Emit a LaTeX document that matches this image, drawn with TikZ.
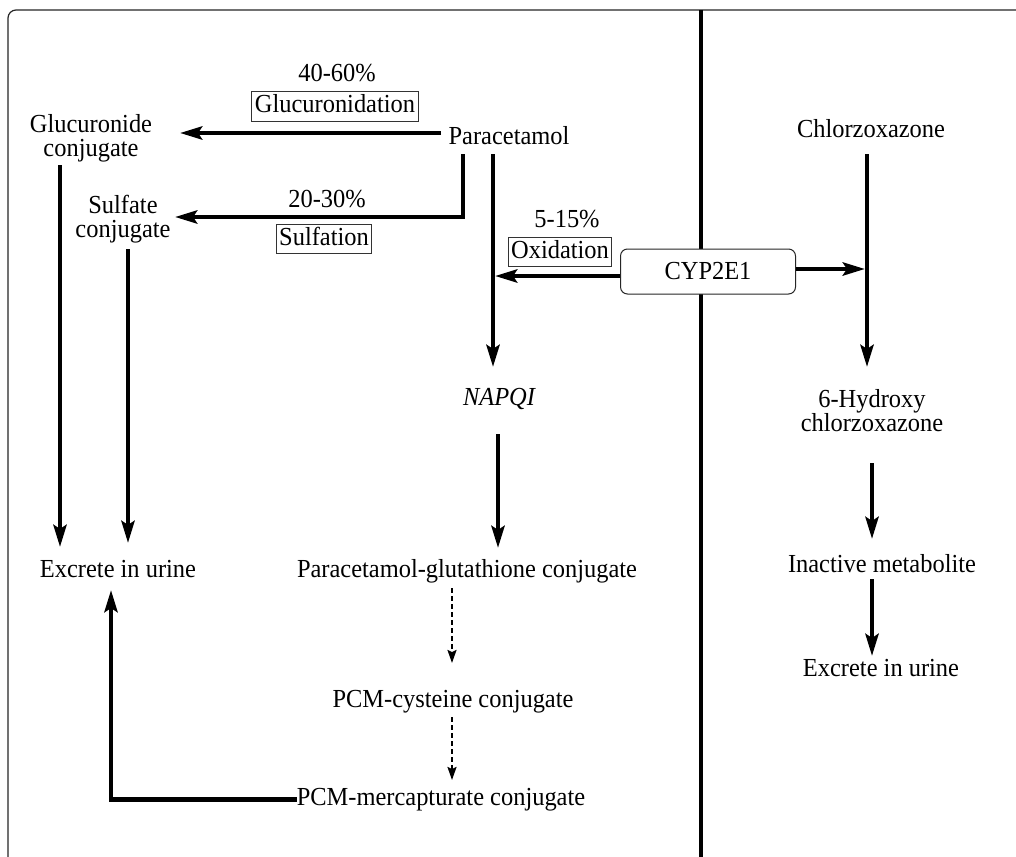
\documentclass[tikz,border=0pt]{standalone}
\usepackage{fontspec}
\setmainfont{Liberation Serif}[FakeStretch=0.94]
\usetikzlibrary{arrows.meta}
\begin{document}
\begin{tikzpicture}[x=1pt,y=-1pt,
  txt/.style={font=\fontsize{26}{24}\selectfont, inner sep=0pt, anchor=base},
  two/.style={font=\fontsize{26}{24}\selectfont, inner sep=0pt, align=center, anchor=center},
  pbox/.style={txt, draw=black!80, line width=1pt, inner xsep=3pt, inner ysep=3pt, text height=18pt, text depth=5pt},
  enzyme/.style={draw=black!85, line width=1pt, rounded corners=7pt, fill=white, minimum width=175pt, minimum height=45pt, inner sep=0pt, font=\fontsize{26}{24}\selectfont},
  arr/.style={line width=4.6pt, -{Stealth[length=22pt,width=13pt,inset=4pt]}},
  darr/.style={line width=2pt, dash pattern=on 5pt off 3pt, -{Stealth[length=13pt,width=9pt,inset=2pt]}},
  frame/.style={draw=black!85, line width=1.2pt},
  divider/.style={line width=4pt},
]
\useasboundingbox (0,0) rectangle (1016,856);
\clip (0,0) rectangle (1016,856);
\fill[white] (0,0) rectangle (1016,856);

% frame and divider
\draw[frame, rounded corners=8pt] (8,880) -- (8,10) -- (1040,10);
\draw[divider] (701,10) -- (701,880);

% text nodes
\node[txt] (para) at (509,144) {Paracetamol};
\node[two] (gluc) at (91,137.9) {Glucuronide\\conjugate};
\node[two] (sulf) at (123,218.9) {Sulfate\\conjugate};
\node[txt] (p1) at (337,82) {40-60\%};
\node[pbox] (b1) at (335,113) {Glucuronidation};
\node[txt] (p2) at (327,207) {20-30\%};
\node[pbox] (b2) at (324,245) {Sulfation};
\node[txt] (p3) at (567,227) {5-15\%};
\node[pbox] (b3) at (560,258) {Oxidation};
\node[enzyme] (cyp) at (708,271.5) {CYP2E1};
\node[txt] (chl) at (871,137) {Chlorzoxazone};
\node[two] (hyd) at (872,410.2) {6-Hydroxy\\chlorzoxazone};
\node[txt] (inact) at (882,572) {Inactive metabolite};
\node[txt] (exr) at (881,676) {Excrete in urine};
\node[txt, font=\fontsize{26}{24}\selectfont\itshape] (napqi) at (499,405) {NAPQI};
\node[txt] (exl) at (118,577) {Excrete in urine};
\node[txt] (pgc) at (467,577) {Paracetamol-glutathione conjugate};
\node[txt] (cys) at (453,707) {PCM-cysteine conjugate};
\node[txt] (merc) at (441,805) {PCM-mercapturate conjugate};

% connector end points
\coordinate (g0) at (441,133); \coordinate (g1) at (180,133);
\coordinate (s0) at (463,154); \coordinate (s1) at (463,217); \coordinate (s2) at (175,217);
\coordinate (o0) at (493,154); \coordinate (o1) at (493,367);
\coordinate (c0) at (495,276);
\coordinate (c1) at (865,269);
\coordinate (h0) at (867,154); \coordinate (h1) at (867,367);
\coordinate (i0) at (872,463); \coordinate (i1) at (872,539);
\coordinate (e0) at (872,579); \coordinate (e1) at (872,656);
\coordinate (u0) at (60,165); \coordinate (u1) at (60,547);
\coordinate (v0) at (128,249); \coordinate (v1) at (128,543);
\coordinate (n0) at (498,434); \coordinate (n1) at (498,548);
\coordinate (d0) at (452,588); \coordinate (d1) at (452,663);
\coordinate (d2) at (452,717); \coordinate (d3) at (452,780);
\coordinate (m2) at (111,590);

% connectors
\draw[arr] (g0) -- (g1);
\draw[arr] (s0) -- (s1) -- (s2);
\draw[arr] (o0) -- (o1);
\draw[arr] (cyp.west |- c0) -- (c0);
\draw[arr] (cyp.east |- c1) -- (c1);
\draw[arr] (h0) -- (h1);
\draw[arr] (i0) -- (i1);
\draw[arr] (e0) -- (e1);
\draw[arr] (u0) -- (u1);
\draw[arr] (v0) -- (v1);
\draw[arr] (n0) -- (n1);
\draw[darr] (d0) -- (d1);
\draw[darr] (d2) -- (d3);
\draw[arr] (merc.west) -- (merc.west -| m2) -- (m2);
\end{tikzpicture}
\end{document}
